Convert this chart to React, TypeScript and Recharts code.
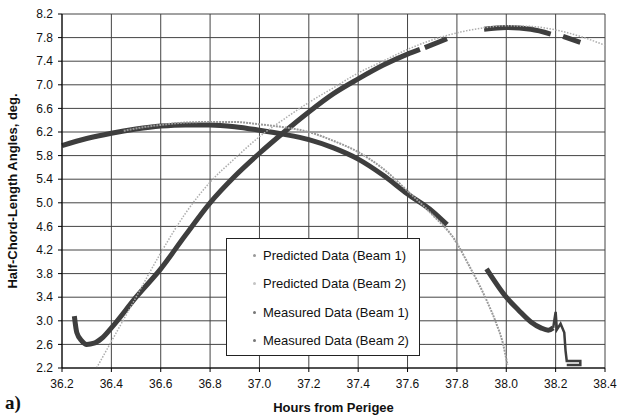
import React from 'react';
import { LineChart, Line, XAxis, YAxis, CartesianGrid } from 'recharts';

// hours from perigee vs half-chord-length angle (deg)
const predictedBeam1 = [
  { x: 36.45, y: 6.22 }, { x: 36.5, y: 6.26 }, { x: 36.6, y: 6.32 }, { x: 36.7, y: 6.36 },
  { x: 36.8, y: 6.37 }, { x: 36.9, y: 6.37 }, { x: 37.0, y: 6.33 }, { x: 37.1, y: 6.28 },
  { x: 37.2, y: 6.2 }, { x: 37.3, y: 6.05 }, { x: 37.4, y: 5.86 }, { x: 37.5, y: 5.58 },
  { x: 37.6, y: 5.2 }, { x: 37.7, y: 4.8 }, { x: 37.79, y: 4.38 }, { x: 37.85, y: 3.93 },
  { x: 37.92, y: 3.35 }, { x: 37.96, y: 2.95 }, { x: 37.985, y: 2.64 }, { x: 38.005, y: 2.25 },
];

const predictedBeam2 = [
  { x: 36.34, y: 2.2 }, { x: 36.4, y: 2.65 }, { x: 36.5, y: 3.4 }, { x: 36.6, y: 4.15 },
  { x: 36.7, y: 4.82 }, { x: 36.8, y: 5.35 }, { x: 36.9, y: 5.75 }, { x: 37.0, y: 6.12 },
  { x: 37.1, y: 6.42 }, { x: 37.2, y: 6.7 }, { x: 37.3, y: 6.95 }, { x: 37.4, y: 7.2 },
  { x: 37.5, y: 7.4 }, { x: 37.6, y: 7.6 }, { x: 37.7, y: 7.76 }, { x: 37.8, y: 7.88 },
  { x: 37.9, y: 7.96 }, { x: 38.0, y: 8.0 }, { x: 38.1, y: 7.99 }, { x: 38.2, y: 7.93 },
  { x: 38.3, y: 7.82 }, { x: 38.4, y: 7.67 },
];

const measuredBeam1 = [
  { x: 36.2, y: 5.97 }, { x: 36.3, y: 6.09 }, { x: 36.4, y: 6.18 }, { x: 36.5, y: 6.25 },
  { x: 36.6, y: 6.3 }, { x: 36.7, y: 6.32 }, { x: 36.8, y: 6.32 }, { x: 36.9, y: 6.29 },
  { x: 37.0, y: 6.23 }, { x: 37.1, y: 6.16 }, { x: 37.2, y: 6.07 }, { x: 37.3, y: 5.93 },
  { x: 37.4, y: 5.74 }, { x: 37.5, y: 5.47 }, { x: 37.6, y: 5.15 }, { x: 37.7, y: 4.86 },
  { x: 37.76, y: 4.63 }, { x: 37.85, y: null },
  { x: 37.92, y: 3.88 }, { x: 38.0, y: 3.4 }, { x: 38.05, y: 3.18 }, { x: 38.1, y: 2.98 },
  { x: 38.14, y: 2.88 }, { x: 38.17, y: 2.84 }, { x: 38.19, y: 2.88 },
];

const measuredBeam1Tail = [
  { x: 38.19, y: 2.88 }, { x: 38.2, y: 3.15 }, { x: 38.205, y: 2.85 }, { x: 38.22, y: 2.95 },
  { x: 38.235, y: 2.8 }, { x: 38.24, y: 2.5 }, { x: 38.245, y: 2.32 }, { x: 38.3, y: 2.32 },
  { x: 38.3, y: 2.25 }, { x: 38.245, y: 2.25 },
];

const measuredBeam2 = [
  { x: 36.25, y: 3.08 }, { x: 36.26, y: 2.8 }, { x: 36.28, y: 2.66 }, { x: 36.3, y: 2.6 },
  { x: 36.33, y: 2.62 }, { x: 36.36, y: 2.7 }, { x: 36.4, y: 2.88 }, { x: 36.5, y: 3.4 },
  { x: 36.6, y: 3.88 }, { x: 36.7, y: 4.45 }, { x: 36.8, y: 5.0 }, { x: 36.9, y: 5.45 },
  { x: 37.0, y: 5.84 }, { x: 37.1, y: 6.2 }, { x: 37.2, y: 6.54 }, { x: 37.3, y: 6.85 },
  { x: 37.4, y: 7.1 }, { x: 37.5, y: 7.33 }, { x: 37.6, y: 7.52 }, { x: 37.65, y: 7.6 },
  { x: 37.66, y: null }, { x: 37.67, y: 7.63 }, { x: 37.76, y: 7.78 }, { x: 37.8, y: null },
  { x: 37.91, y: 7.94 }, { x: 38.0, y: 7.97 }, { x: 38.1, y: 7.94 }, { x: 38.18, y: 7.86 },
  { x: 38.21, y: null }, { x: 38.23, y: 7.82 }, { x: 38.3, y: 7.72 },
];

const xTicks = [36.2, 36.4, 36.6, 36.8, 37.0, 37.2, 37.4, 37.6, 37.8, 38.0, 38.2, 38.4];
const yTicks = [2.2, 2.6, 3.0, 3.4, 3.8, 4.2, 4.6, 5.0, 5.4, 5.8, 6.2, 6.6, 7.0, 7.4, 7.8, 8.2];

const legendItems = [
  { name: 'Predicted Data (Beam 1)', color: '#999' },
  { name: 'Predicted Data (Beam 2)', color: '#c4c4c4' },
  { name: 'Measured Data (Beam 1)', color: '#777' },
  { name: 'Measured Data (Beam 2)', color: '#777' },
];

const font = 'Arial, "Liberation Sans", sans-serif';

const ChartLegend = () => (
  <div
    style={{
      position: 'absolute',
      left: 226,
      top: 238,
      width: 194,
      height: 118,
      border: '1px solid #222',
      background: '#fff',
      boxSizing: 'border-box',
      padding: '2px 0 0 26px',
      fontFamily: font,
      fontSize: 13,
      color: '#111',
    }}
  >
    {legendItems.map((item, i) => (
      <div key={i} style={{ display: 'flex', alignItems: 'center', height: 28.5 }}>
        <span
          style={{
            width: 3,
            height: 3,
            borderRadius: '50%',
            background: item.color,
            marginRight: 7,
          }}
        />
        <span>{item.name}</span>
      </div>
    ))}
  </div>
);

const App = () => {
  return (
    <div style={{ position: 'absolute', left: 0, top: 0, width: 617, height: 417, background: '#fff' }}>
      <LineChart width={617} height={417} margin={{ top: 14, right: 12, bottom: 0, left: 0 }}>
        <CartesianGrid stroke="#444" strokeWidth={1} horizontalValues={yTicks} verticalValues={xTicks} />
        <XAxis
          type="number"
          dataKey="x"
          domain={[36.2, 38.4]}
          ticks={xTicks}
          tickFormatter={(v: number) => v.toFixed(1)}
          allowDuplicatedCategory={false}
          height={49}
          tickSize={4}
          tickMargin={7}
          stroke="#000"
          tick={{ fill: '#111', fontSize: 12, fontFamily: font }}
          label={{
            value: 'Hours from Perigee',
            position: 'insideBottom',
            offset: 5,
            style: { fontWeight: 'bold', fontSize: 13, fontFamily: font, fill: '#111' },
          }}
        />
        <YAxis
          type="number"
          dataKey="y"
          domain={[2.2, 8.2]}
          ticks={yTicks}
          tickFormatter={(v: number) => v.toFixed(1)}
          width={62}
          tickSize={4}
          tickMargin={5}
          stroke="#000"
          interval={0}
          tick={{ fill: '#111', fontSize: 12, fontFamily: font }}
          label={{
            value: 'Half-Chord-Length Angles, deg.',
            angle: -90,
            position: 'insideLeft',
            offset: 12,
            style: { textAnchor: 'middle', fontWeight: 'bold', fontSize: 13, fontFamily: font, fill: '#111' },
          }}
        />
        <Line
          data={measuredBeam1}
          dataKey="y"
          type="monotone"
          stroke="#3e3e3e"
          strokeWidth={5}
          dot={false}
          isAnimationActive={false}
          name="Measured Data (Beam 1)"
        />
        <Line
          data={measuredBeam1Tail}
          dataKey="y"
          type="linear"
          stroke="#3e3e3e"
          strokeWidth={2.5}
          dot={false}
          isAnimationActive={false}
          legendType="none"
        />
        <Line
          data={measuredBeam2}
          dataKey="y"
          type="monotone"
          stroke="#3e3e3e"
          strokeWidth={5}
          dot={false}
          isAnimationActive={false}
          name="Measured Data (Beam 2)"
        />
        <Line
          data={predictedBeam1}
          dataKey="y"
          type="monotone"
          stroke="#9a9a9a"
          strokeWidth={2}
          strokeDasharray="2 1"
          dot={false}
          isAnimationActive={false}
          name="Predicted Data (Beam 1)"
        />
        <Line
          data={predictedBeam2}
          dataKey="y"
          type="monotone"
          stroke="#adadad"
          strokeWidth={1.5}
          strokeDasharray="1.5 1.5"
          dot={false}
          isAnimationActive={false}
          name="Predicted Data (Beam 2)"
        />
      </LineChart>
      <ChartLegend />
      <span
        style={{
          position: 'absolute',
          left: 5,
          top: 392,
          fontFamily: '"Liberation Serif", "Times New Roman", serif',
          fontWeight: 'bold',
          fontSize: 19,
          color: '#111',
        }}
      >
        a)
      </span>
    </div>
  );
};

export default App;
